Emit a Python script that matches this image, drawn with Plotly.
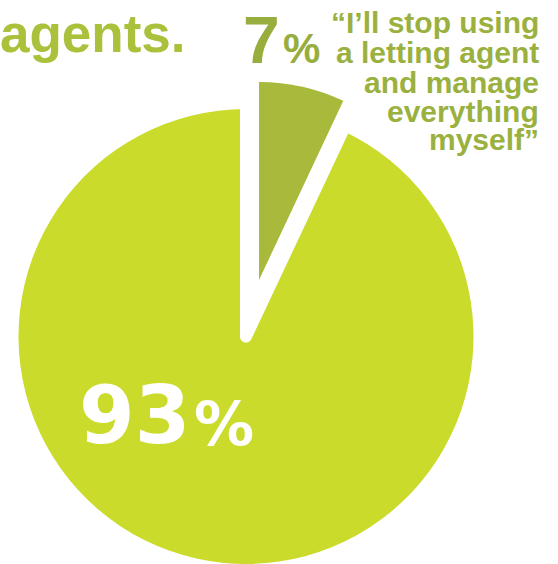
import plotly.graph_objects as go

W, H = 558, 564

# Data
labels = ["Keep using a letting agent", "I'll stop using a letting agent and manage everything myself"]
values = [93, 7]
slice_colors = ["#CADB2B", "#A8B93B"]
big_label = "93"
small_label = "7"
quote_lines = ["\u201cI\u2019ll stop using", "a letting agent", "and manage", "everything", "myself\u201d"]
heading = "agents."

def px(x):
    return x / W

def py(y):
    return 1 - y / H

fig = go.Figure()

# Main pie: 93% slice, with the 7% wedge left as a white gap
fig.add_trace(go.Pie(
    labels=labels, values=values, sort=False, direction="clockwise",
    rotation=360 * values[1] / sum(values),
    marker=dict(colors=[slice_colors[0], "#FFFFFF"],
                line=dict(color="#FFFFFF", width=[0, 12])),
    textinfo="none", hoverinfo="skip",
    domain=dict(x=[px(18), px(474)], y=[0, py(109)]),
))

# Exploded, smaller 7% slice
fig.add_trace(go.Pie(
    labels=labels[::-1], values=values[::-1], sort=False, direction="clockwise",
    rotation=0,
    marker=dict(colors=[slice_colors[1], "rgba(0,0,0,0)"], line=dict(width=0)),
    textinfo="none", hoverinfo="skip",
    domain=dict(x=[px(61), px(457)], y=[py(478), py(82)]),
))

ann = []
LIB = "Liberation Sans, Arial, sans-serif"
DJ = "DejaVu Sans, sans-serif"

def add(text, x, baseline, size, color, family, xanchor, k=0.35):
    ann.append(dict(text=text, x=px(x), y=py(baseline - k * size), xref="paper", yref="paper",
                    xanchor=xanchor, yanchor="middle", showarrow=False,
                    font=dict(size=size, color=color, family=family, weight="bold")))

add(heading, -2, 52, 53, "#A9C13B", LIB, "left")
add(small_label, 282, 63, 66, "#97AD3D", LIB, "right")
add("%", 281, 63, 42, "#97AD3D", LIB, "left")
bases = [33, 63, 93, 122, 150]
for line, b in zip(quote_lines, bases):
    add(line, 541, b, 30, "#9AB13F", LIB, "right")
add(big_label, 77, 443, 80, "#FFFFFF", DJ, "left")
add("%", 192, 445, 60, "#FFFFFF", DJ, "left")

fig.update_layout(
    width=W, height=H, margin=dict(l=0, r=0, t=0, b=0),
    showlegend=False, paper_bgcolor="#FFFFFF", plot_bgcolor="#FFFFFF",
    annotations=ann,
)

fig.write_html("out.html")
